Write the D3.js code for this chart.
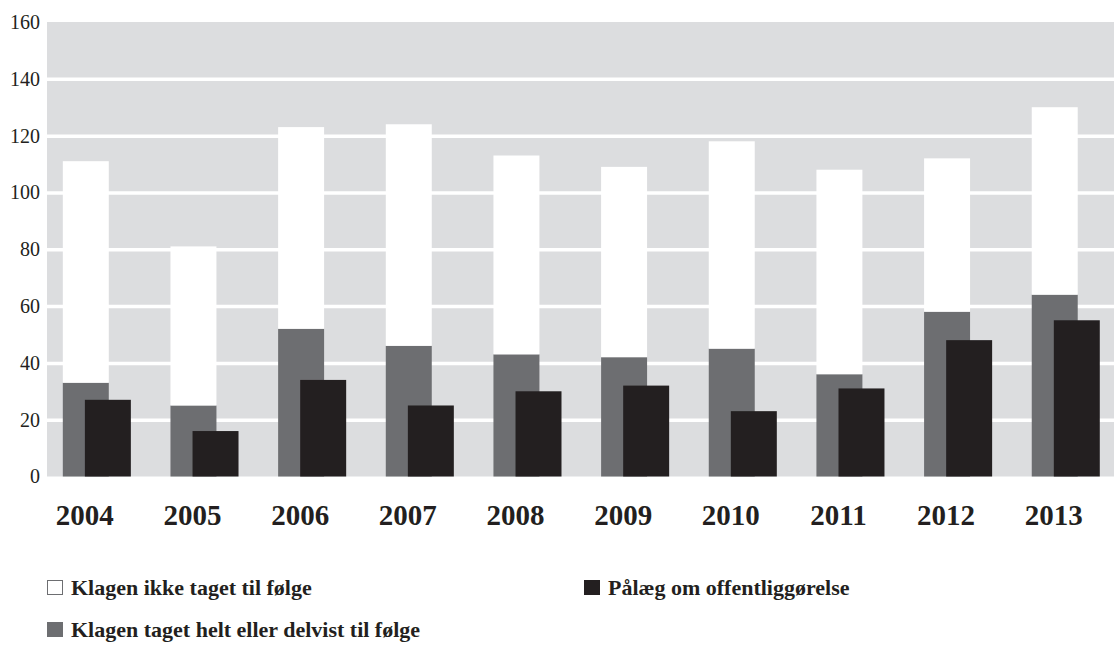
<!DOCTYPE html>
<html lang="da">
<head>
    <meta charset="UTF-8">
    <title>Klager 2004-2013</title>
    <script src="https://cdnjs.cloudflare.com/ajax/libs/d3/7.8.5/d3.min.js"></script>
    <style>
        body { margin: 0; background: #fff; }
        svg { display: block; }
        svg text { font-family: "Liberation Serif", "DejaVu Serif", serif; fill: #231f20; }
    </style>
</head>
<body>
    <svg id="chart" width="1114" height="646"></svg>

    <script>
        // data
        const years = ['2004', '2005', '2006', '2007', '2008', '2009', '2010', '2011', '2012', '2013'];
        const taget = [33, 25, 52, 46, 43, 42, 45, 36, 58, 64];        // gray
        const ikkeTaget = [78, 56, 71, 78, 70, 67, 73, 72, 54, 66];    // white, stacked on gray
        const paalaeg = [27, 16, 34, 25, 30, 32, 23, 31, 48, 55];      // black
        const yTicks = [0, 20, 40, 60, 80, 100, 120, 140, 160];
        const legendLabels = ['Klagen ikke taget til følge', 'Klagen taget helt eller delvist til følge', 'Pålæg om offentliggørelse'];

        const colors = { white: '#ffffff', gray: '#6d6e71', black: '#231f20', bg: '#dcdddf' };
        const serif = '"Liberation Serif", "DejaVu Serif", serif';

        const svg = d3.select('#chart');
        const plotLeft = 47, plotRight = 1114;

        const x = d3.scaleBand().domain(years).range([43, 1119.6]);
        const y = d3.scaleLinear().domain([0, 160]).range([476.5, 22]);

        const bw = x.bandwidth();
        const barW = bw * 0.427;
        const shift = bw * 0.205;
        const groupStart = d => x(d) + (bw - barW - shift) / 2;

        // background
        svg.append('rect')
            .attr('x', plotLeft).attr('y', y(160))
            .attr('width', plotRight - plotLeft).attr('height', y(0) - y(160))
            .attr('fill', colors.bg);

        // white gridlines
        svg.append('g')
            .attr('transform', `translate(${plotLeft},0)`)
            .call(d3.axisLeft(y).tickValues(yTicks.filter(v => v > 0 && v < 160))
                .tickSize(-(plotRight - plotLeft)).tickFormat(''))
            .call(g => g.select('.domain').remove())
            .call(g => g.selectAll('line').attr('stroke', '#fff').attr('stroke-width', 3.5));

        // y tick labels
        svg.append('g')
            .attr('transform', 'translate(40,0)')
            .attr('font-family', serif)
            .call(d3.axisLeft(y).tickValues(yTicks).tickSize(0).tickPadding(0))
            .attr('font-family', serif)
            .attr('font-size', 20)
            .call(g => g.select('.domain').remove())
            .call(g => g.selectAll('text').attr('fill', colors.black));

        const rows = years.map((yr, i) => ({ yr, g: taget[i], w: ikkeTaget[i], b: paalaeg[i] }));

        // gray (taget)
        svg.append('g').selectAll('rect').data(rows).join('rect')
            .attr('x', d => groupStart(d.yr)).attr('width', barW)
            .attr('y', d => y(d.g)).attr('height', d => y(0) - y(d.g))
            .attr('fill', colors.gray);

        // white stacked on top (ikke taget)
        svg.append('g').selectAll('rect').data(rows).join('rect')
            .attr('x', d => groupStart(d.yr)).attr('width', barW)
            .attr('y', d => y(d.g + d.w)).attr('height', d => y(d.g) - y(d.g + d.w))
            .attr('fill', colors.white);

        // black (paalaeg)
        svg.append('g').selectAll('rect').data(rows).join('rect')
            .attr('x', d => groupStart(d.yr) + shift).attr('width', barW)
            .attr('y', d => y(d.b)).attr('height', d => y(0) - y(d.b))
            .attr('fill', colors.black);

        // x labels
        svg.append('g')
            .attr('transform', `translate(-12,${y(0)})`)
            .call(d3.axisBottom(x).tickSize(0).tickPadding(0))
            .attr('font-family', serif)
            .attr('font-size', 29)
            .attr('font-weight', 'bold')
            .call(g => g.select('.domain').remove())
            .call(g => g.selectAll('text')
                .attr('dy', null).attr('y', 48)
                .attr('fill', colors.black));

        // legend
        const legend = [
            { label: legendLabels[0], fill: colors.white, stroke: colors.gray, x: 47, y: 595 },
            { label: legendLabels[1], fill: colors.gray, stroke: 'none', x: 47, y: 637 },
            { label: legendLabels[2], fill: colors.black, stroke: 'none', x: 584, y: 595 }
        ];
        const lg = svg.append('g').selectAll('g').data(legend).join('g')
            .attr('transform', d => `translate(${d.x},${d.y})`);
        lg.append('rect')
            .attr('x', d => d.stroke === 'none' ? 0 : 0.5).attr('y', d => d.stroke === 'none' ? -15 : -14.5)
            .attr('width', d => d.stroke === 'none' ? 16 : 15).attr('height', d => d.stroke === 'none' ? 15 : 14)
            .attr('fill', d => d.fill).attr('stroke', d => d.stroke).attr('stroke-width', 1);
        lg.append('text')
            .attr('x', 24).attr('y', 0)
            .attr('font-size', 22).attr('font-weight', 'bold')
            .text(d => d.label);
    </script>
</body>
</html>
